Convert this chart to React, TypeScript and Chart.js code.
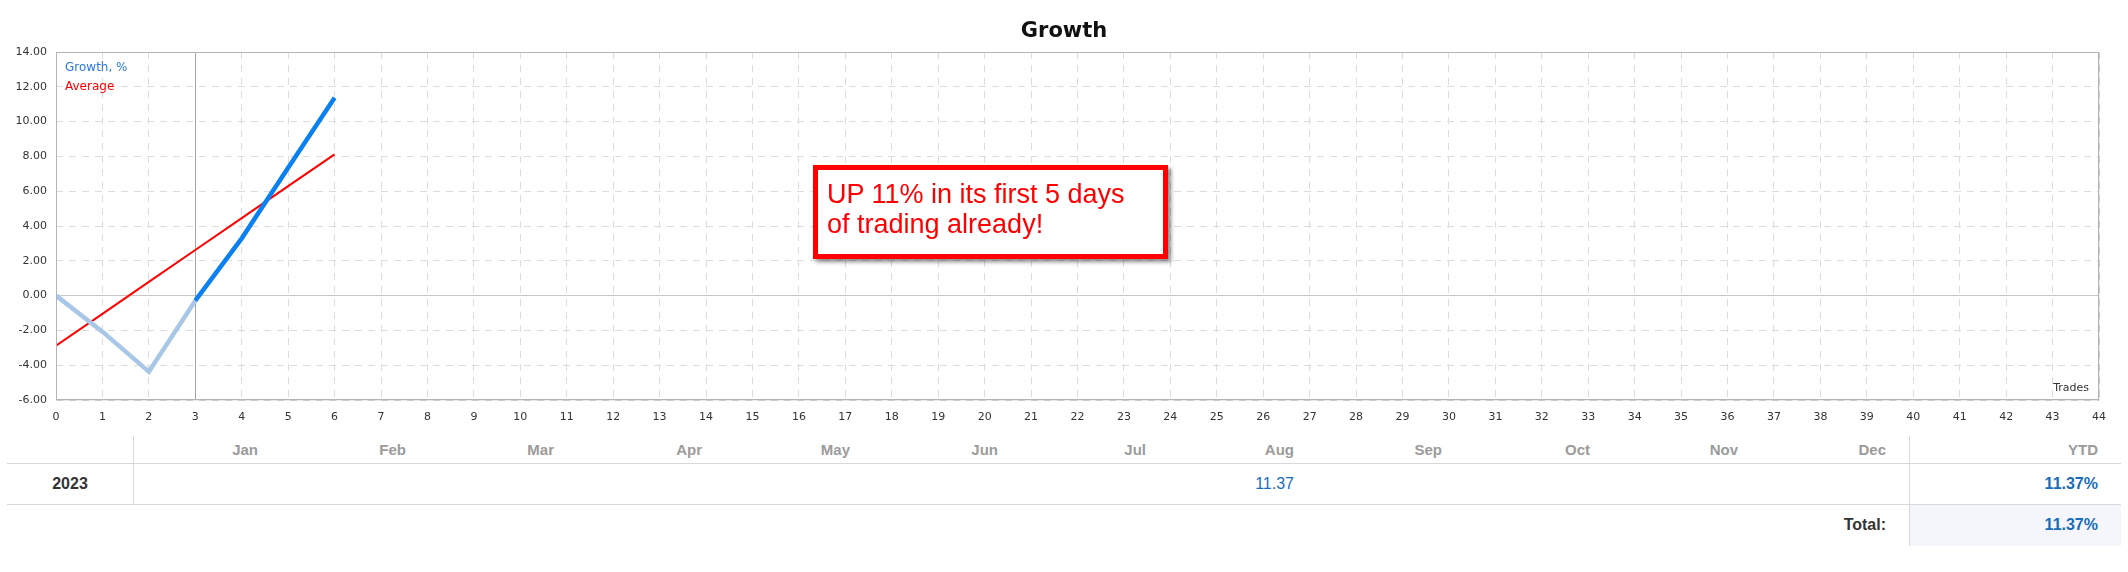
import React, { useEffect, useRef } from "react";
import { Chart, registerables } from "chart.js";

Chart.register(...registerables);

// ---- data ----
const TRADES = [0, 1, 2, 3, 4, 5, 6];
const GROWTH = [0, -2.07, -4.37, -0.29, 3.29, 7.35, 11.37];
const AVERAGE = [-2.88, -1.05, 0.79, 2.62, 4.45, 6.29, 8.12];
const X_MIN = 0;
const X_MAX = 44;
const Y_MIN = -6;
const Y_MAX = 14;
const Y_STEP = 2;
const DEPOSIT_TRADE = 3;
const TITLE = "Growth";
const SERIES_NAMES = ["Growth, %", "Average"];
const X_AXIS_NAME = "Trades";
const NOTE_LINES = ["UP 11% in its first 5 days", "of trading already!"];
const MONTHS = ["Jan", "Feb", "Mar", "Apr", "May", "Jun", "Jul", "Aug", "Sep", "Oct", "Nov", "Dec"];
const YEARS = ["2023"];
const YEAR_MONTH_VALUES = [["", "", "", "", "", "", "", "11.37", "", "", "", ""]];
const YEAR_YTD = ["11.37%"];
const TOTAL_LABEL = "Total:";
const TOTAL_VALUE = "11.37%";

// ---- styles ----
const BLUE = "#0a80f2";
const LIGHT_BLUE = "#a8c7e6";
const RED = "#ff0000";
const TICK_FONT = "DejaVu Sans";
const TABLE_FONT = "'Liberation Sans', Arial, sans-serif";
const DASH = [7, 6];

const framePlugin = {
  id: "frame",
  beforeDatasetsDraw(chart: any) {
    const { ctx, chartArea, scales } = chart;
    ctx.save();
    const x3 = Math.round(scales.x.getPixelForValue(DEPOSIT_TRADE)) + 0.5;
    ctx.strokeStyle = "#a6a6a6";
    ctx.lineWidth = 1;
    ctx.beginPath();
    ctx.moveTo(x3, chartArea.top);
    ctx.lineTo(x3, chartArea.bottom);
    ctx.stroke();
    ctx.restore();
  },
  afterDraw(chart: any) {
    const { ctx, chartArea } = chart;
    ctx.save();
    ctx.strokeStyle = "#b4b4b4";
    ctx.lineWidth = 1;
    ctx.strokeRect(
      Math.round(chartArea.left) + 0.5,
      Math.round(chartArea.top) + 0.5,
      Math.round(chartArea.right - chartArea.left) - 1,
      Math.round(chartArea.bottom - chartArea.top) - 1
    );
    ctx.strokeStyle = "rgba(0,0,0,0.08)";
    ctx.beginPath();
    ctx.moveTo(Math.round(chartArea.left) + 1, Math.round(chartArea.bottom) + 0.5);
    ctx.lineTo(Math.round(chartArea.right) + 0.5, Math.round(chartArea.bottom) + 0.5);
    ctx.lineTo(Math.round(chartArea.right) + 0.5, Math.round(chartArea.top) + 1);
    ctx.stroke();

    ctx.fillStyle = "#111";
    ctx.font = `bold 21px '${TICK_FONT}'`;
    ctx.textAlign = "center";
    ctx.textBaseline = "alphabetic";
    ctx.fillText(TITLE, chart.width / 2, 37);

    ctx.font = `12px '${TICK_FONT}'`;
    ctx.textAlign = "left";
    ctx.textBaseline = "middle";
    ctx.fillStyle = "#2a78e0";
    ctx.fillText(SERIES_NAMES[0], chartArea.left + 9, chartArea.top + 16);
    ctx.fillStyle = RED;
    ctx.fillText(SERIES_NAMES[1], chartArea.left + 9, chartArea.top + 35);

    ctx.font = `11px '${TICK_FONT}'`;
    ctx.fillStyle = "#333";
    ctx.textAlign = "right";
    ctx.fillText(X_AXIS_NAME, chartArea.right - 10, chartArea.bottom - 12);
    ctx.restore();
  },
};

function GrowthChart() {
  const ref = useRef<HTMLCanvasElement | null>(null);
  useEffect(() => {
    if (!ref.current) return;
    const chart = new Chart(ref.current, {
      type: "line",
      data: {
        datasets: [
          {
            label: SERIES_NAMES[0],
            data: TRADES.map((x, i) => ({ x, y: GROWTH[i] })),
            borderColor: BLUE,
            borderWidth: 4.5,
            pointRadius: 0,
            tension: 0,
            borderCapStyle: "butt",
            segment: {
              borderColor: (c: any) => (c.p0DataIndex < DEPOSIT_TRADE ? LIGHT_BLUE : BLUE),
            },
          } as any,
          {
            label: SERIES_NAMES[1],
            data: TRADES.map((x, i) => ({ x, y: AVERAGE[i] })),
            borderColor: RED,
            borderWidth: 2,
            pointRadius: 0,
            tension: 0,
          },
        ],
      },
      options: {
        animation: false,
        responsive: true,
        maintainAspectRatio: false,
        layout: { padding: { top: 52, right: 29, bottom: 0, left: 0 } },
        plugins: {
          legend: { display: false },
          title: { display: false },
          tooltip: { enabled: false },
        },
        scales: {
          x: {
            type: "linear",
            min: X_MIN,
            max: X_MAX,
            ticks: {
              stepSize: 1,
              autoSkip: false,
              maxRotation: 0,
              padding: 11,
              color: "#333",
              font: { family: TICK_FONT, size: 11 },
              callback: (v: any) => String(v),
            },
            grid: {
              color: "#dcdcdc",
              drawTicks: false,
            },
            border: { display: false, dash: DASH },
            afterFit: (s: any) => {
              s.height = 30;
            },
          } as any,
          y: {
            min: Y_MIN,
            max: Y_MAX,
            ticks: {
              stepSize: Y_STEP,
              padding: 9,
              color: "#333",
              font: { family: TICK_FONT, size: 11 },
              callback: (v: any) => Number(v).toFixed(2),
            },
            grid: {
              color: (c: any) => (c.tick && c.tick.value === 0 ? "#c8c8c8" : "#dcdcdc"),
              drawTicks: false,
            },
            border: {
              display: false,
              dash: (c: any) => (c.tick && c.tick.value === 0 ? [] : DASH),
            },
            afterFit: (s: any) => {
              s.width = 56;
            },
          } as any,
        },
      },
      plugins: [framePlugin],
    });
    return () => chart.destroy();
  }, []);
  return (
    <div style={{ position: "absolute", left: 0, top: 0, width: 2128, height: 430 }}>
      <canvas ref={ref} />
    </div>
  );
}

function Note() {
  return (
    <div
      style={{
        position: "absolute",
        left: 813,
        top: 165,
        width: 355,
        height: 94,
        boxSizing: "border-box",
        border: "5px solid #ff0000",
        background: "#fff",
        boxShadow: "3px 3px 4px rgba(0,0,0,0.45)",
        padding: "9px 0 0 9px",
        color: "#ff0000",
        fontFamily: "'Liberation Sans', Arial, sans-serif",
        fontSize: 27,
        lineHeight: "30px",
        whiteSpace: "nowrap",
      }}
    >
      {NOTE_LINES.map((l, i) => (
        <div key={i}>{l}</div>
      ))}
    </div>
  );
}

function Table() {
  const left = 7;
  const firstW = 126;
  const monthW = 148;
  const ytdW = 212;
  const top = 436;
  const headH = 27;
  const rowH = 41;
  const totalH = 42;
  const fullW = firstW + monthW * 12 + ytdW;
  const ytdLeft = left + firstW + monthW * 12;
  const pad = 23;
  const cell = (x: number, y: number, w: number, h: number, extra: any = {}) => ({
    position: "absolute" as const,
    left: x,
    top: y,
    width: w,
    height: h,
    lineHeight: `${h}px`,
    boxSizing: "border-box" as const,
    paddingRight: pad,
    textAlign: "right" as const,
    fontFamily: TABLE_FONT,
    fontSize: 16,
    whiteSpace: "nowrap" as const,
    ...extra,
  });
  const rowTop = top + headH;
  const totalTop = rowTop + rowH * YEARS.length;
  return (
    <div style={{ position: "absolute", left: 0, top: 0 }}>
      <div style={{ position: "absolute", left: ytdLeft, top: totalTop, width: ytdW, height: totalH, background: "#f4f6fb" }} />
      {MONTHS.map((m, i) => (
        <div key={m} style={cell(left + firstW + monthW * i, top, monthW, headH, { color: "#9b9b9b", fontWeight: "bold", fontSize: 15 })}>
          {m}
        </div>
      ))}
      <div style={cell(ytdLeft, top, ytdW, headH, { color: "#9b9b9b", fontWeight: "bold", fontSize: 15 })}>YTD</div>
      {YEARS.map((y, r) => (
        <React.Fragment key={y}>
          <div
            style={cell(left, rowTop + rowH * r, firstW, rowH, {
              textAlign: "center",
              paddingRight: 0,
              color: "#333",
              fontWeight: "bold",
            })}
          >
            {y}
          </div>
          {YEAR_MONTH_VALUES[r].map((v, i) => (
            <div key={i} style={cell(left + firstW + monthW * i, rowTop + rowH * r, monthW, rowH, { color: "#1a6cb6" })}>
              {v}
            </div>
          ))}
          <div style={cell(ytdLeft, rowTop + rowH * r, ytdW, rowH, { color: "#1a6cb6", fontWeight: "bold" })}>
            {YEAR_YTD[r]}
          </div>
        </React.Fragment>
      ))}
      <div style={cell(left, totalTop, ytdLeft - left, totalH, { color: "#333", fontWeight: "bold" })}>{TOTAL_LABEL}</div>
      <div style={cell(ytdLeft, totalTop, ytdW, totalH, { color: "#1a6cb6", fontWeight: "bold" })}>{TOTAL_VALUE}</div>
      <div style={{ position: "absolute", left, top: rowTop, width: fullW, height: 1, background: "#d8d8d8" }} />
      <div style={{ position: "absolute", left, top: totalTop, width: fullW, height: 1, background: "#d8d8d8" }} />
      <div style={{ position: "absolute", left: left + firstW, top, width: 1, height: totalTop - top, background: "#d8d8d8" }} />
      <div style={{ position: "absolute", left: ytdLeft, top, width: 1, height: totalTop + totalH - top, background: "#d8d8d8" }} />
    </div>
  );
}

export default function App() {
  return (
    <div style={{ position: "absolute", left: 0, top: 0, width: 2128, height: 572, background: "#fff", overflow: "hidden" }}>
      <GrowthChart />
      <Note />
      <Table />
    </div>
  );
}
